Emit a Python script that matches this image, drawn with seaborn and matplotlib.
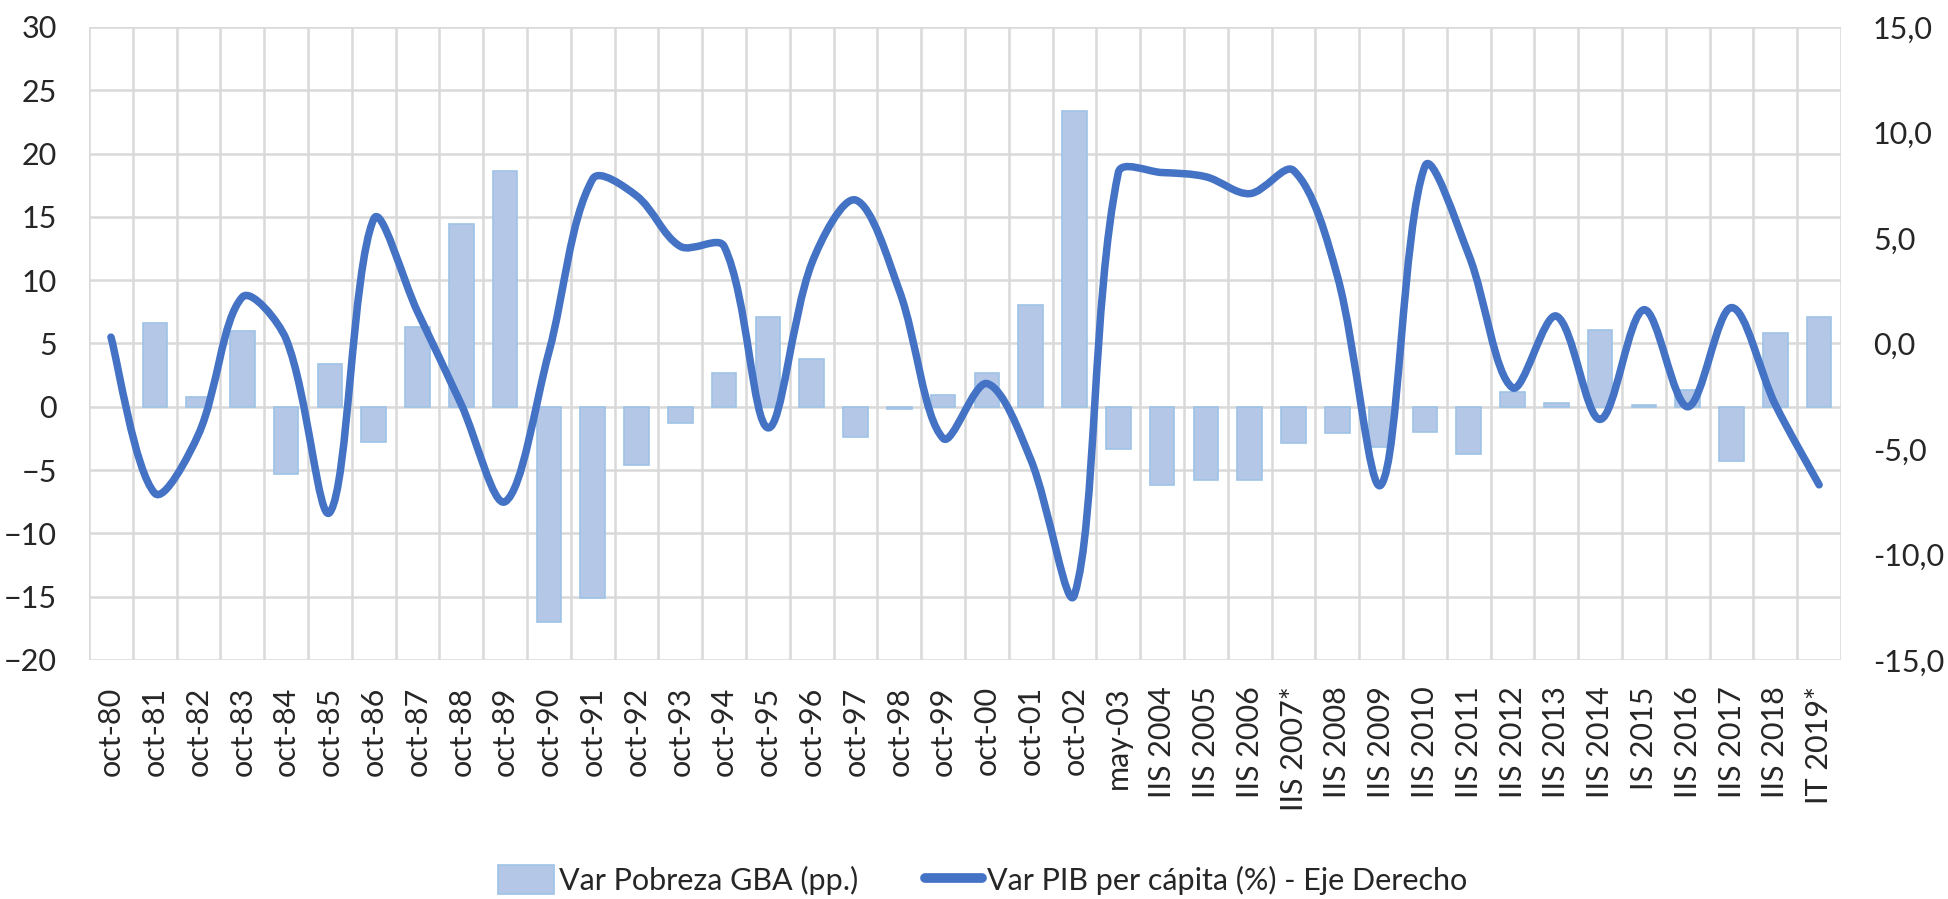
import numpy as np
import pandas as pd
import matplotlib
matplotlib.use("Agg")
import matplotlib.pyplot as plt
from matplotlib.path import Path
from matplotlib.patches import PathPatch, Patch
from matplotlib.lines import Line2D
from matplotlib.ticker import FuncFormatter
import seaborn as sns

# Data
periodos = ["oct-80", "oct-81", "oct-82", "oct-83", "oct-84", "oct-85", "oct-86",
            "oct-87", "oct-88", "oct-89", "oct-90", "oct-91", "oct-92", "oct-93",
            "oct-94", "oct-95", "oct-96", "oct-97", "oct-98", "oct-99", "oct-00",
            "oct-01", "oct-02", "may-03", "IIS 2004", "IIS 2005", "IIS 2006",
            "IIS 2007*", "IIS 2008", "IIS 2009", "IIS 2010", "IIS 2011", "IIS 2012",
            "IIS 2013", "IIS 2014", "IS 2015", "IIS 2016", "IIS 2017", "IIS 2018",
            "IT 2019*"]

pobreza = [np.nan, 6.6, 0.8, 6.0, -5.3, 3.4, -2.8, 6.3, 14.4, 18.6,
           -17.0, -15.1, -4.6, -1.3, 2.7, 7.1, 3.8, -2.4, -0.2, 0.9,
           2.7, 8.0, 23.4, -3.3, -6.2, -5.8, -5.8, -2.9, -2.1, -3.2,
           -2.0, -3.7, 1.2, 0.3, 6.1, 0.15, 1.3, -4.3, 5.8, 7.1]

pib = [0.3, -7.1, -4.3, 2.2, 0.2, -8.0, 5.9, 1.5, -2.9, -7.5,
       -0.4, 7.8, 7.0, 4.6, 4.6, -4.0, 3.8, 6.8, 2.5, -4.5,
       -1.9, -5.5, -11.9, 8.1, 8.1, 7.9, 7.1, 8.2, 3.2, -6.7,
       8.4, 4.2, -2.1, 1.3, -3.6, 1.6, -3.0, 1.7, -2.9, -6.7]

BAR_FILL = "#B4C7E7"
BAR_EDGE = "#9DC3E6"
LINE_COLOR = "#4472C4"
GRID = "#D9D9D9"

sns.set_style("white")
plt.rcParams["font.family"] = ["Lato", "DejaVu Sans"]

fig = plt.figure(figsize=(19.49, 8.99), dpi=100)
ax = fig.add_axes([0.0457, 0.2659, 0.8989, 0.7041])

df = pd.DataFrame({"periodo": periodos, "pobreza": pobreza})
sns.barplot(data=df, x="periodo", y="pobreza", order=periodos, ax=ax, color=BAR_FILL,
            saturation=1, width=0.56, edgecolor=BAR_EDGE, linewidth=1.2, zorder=2)

ax.set_xlim(-0.5, len(periodos) - 0.5)
ax.set_ylim(-20, 30)
ax.set_yticks(range(-20, 31, 5))
ax.set_xticks(np.arange(-0.5, len(periodos), 1), minor=True)
ax.grid(which="minor", axis="x", color=GRID, lw=1.8, zorder=0)
ax.grid(which="major", axis="y", color=GRID, lw=1.8, zorder=0)
ax.grid(which="major", axis="x", visible=False)
ax.set_axisbelow(True)
ax.set_xlabel("")
ax.set_ylabel("")
ax.tick_params(axis="x", which="both", length=0, pad=19, labelsize=22, rotation=90)
ax.tick_params(axis="y", length=0, pad=23, labelsize=22)
for s in ax.spines.values():
    s.set_visible(False)

# Right axis: smoothed line, bezier through the data points (Excel-like smoothing)
ax2 = ax.twinx()
ax2.set_ylim(-15, 15)
ax2.set_yticks(range(-15, 16, 5))
ax2.yaxis.set_major_formatter(FuncFormatter(lambda v, p: f"{v:.1f}".replace(".", ",")))
ax2.tick_params(axis="y", length=0, pad=23, labelsize=22)
for s in ax2.spines.values():
    s.set_visible(False)

pts = np.column_stack([np.arange(len(pib)), pib]).astype(float)
# screen aspect: one category ~43.8 px, one unit of right axis ~21.1 px
aspect = np.array([1.0, 21.1 / 43.8])
n = len(pts)


def dist(a, b):
    return np.hypot(*((b - a) * aspect))


verts = [tuple(pts[0])]
codes = [Path.MOVETO]
for i in range(n - 1):
    p0 = pts[max(i - 1, 0)]
    p1 = pts[i]
    p2 = pts[i + 1]
    p3 = pts[min(i + 2, n - 1)]
    d01, d12, d23 = dist(p0, p1), dist(p1, p2), dist(p2, p3)
    f1 = d12 / (d01 + d12) / 1.5 if d01 > 0 else 1 / 3
    f2 = d12 / (d12 + d23) / 1.5 if d23 > 0 else 1 / 3
    c1 = p1 + (p2 - p0) * f1 / 2
    c2 = p2 - (p3 - p1) * f2 / 2
    verts += [tuple(c1), tuple(c2), tuple(p2)]
    codes += [Path.CURVE4] * 3
ax2.add_patch(PathPatch(Path(verts, codes), facecolor="none", edgecolor=LINE_COLOR,
                        lw=5.4, capstyle="round", joinstyle="round", zorder=3))

handles = [Patch(facecolor=BAR_FILL, edgecolor=BAR_EDGE, lw=1.2),
           Line2D([0], [0], color=LINE_COLOR, lw=7, solid_capstyle="round")]
labels = ["Var Pobreza GBA (pp.)", "Var PIB per cápita (%) - Eje Derecho"]
fig.legend(handles, labels, loc="center", bbox_to_anchor=(0.504, 0.021), ncol=2,
           frameon=False, fontsize=22, handlelength=1.85, handleheight=1.1,
           handletextpad=0.15, columnspacing=2.2)

fig.savefig("out.png", dpi=100)
